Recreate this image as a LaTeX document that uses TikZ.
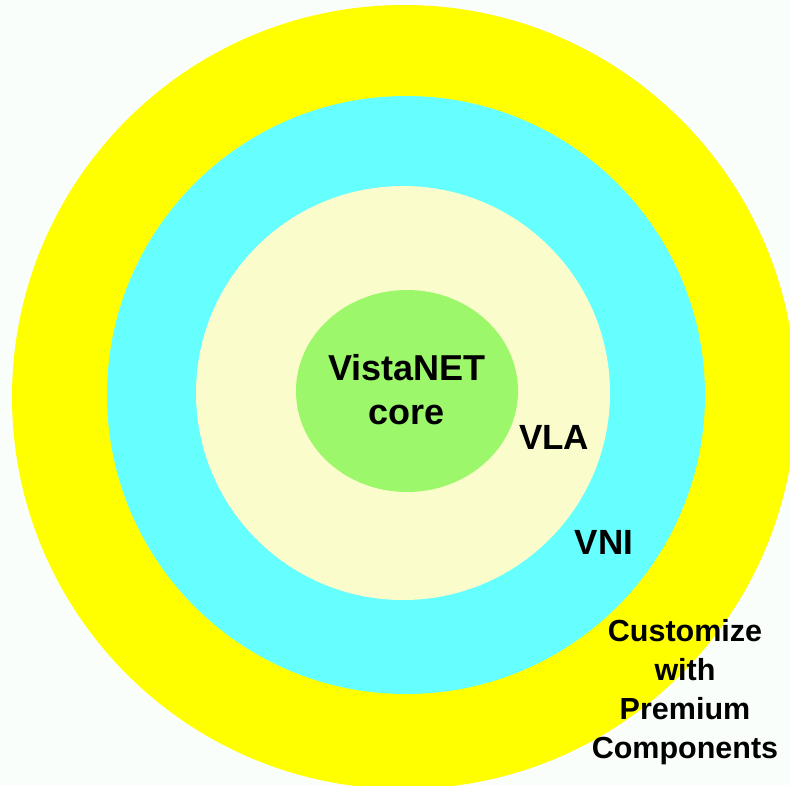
\documentclass[tikz,border=0pt]{standalone}
\usepackage{fontspec}
\setmainfont{Liberation Sans}
\definecolor{bgc}{HTML}{FAFEFA}
\definecolor{ringyellow}{HTML}{FFFF00}
\definecolor{ringcyan}{HTML}{66FFFF}
\definecolor{ringcream}{HTML}{FAFCCC}
\definecolor{coregreen}{HTML}{9CF76A}
\tikzset{
  lbl/.style={font=\bfseries\fontsize{35}{42}\selectfont, text=black, inner sep=0pt, align=center},
  corelbl/.style={font=\bfseries\fontsize{36}{44}\selectfont, text=black, inner sep=0pt, align=center},
  smalllbl/.style={font=\bfseries\fontsize{30.5}{39}\selectfont, text=black, inner sep=0pt, align=center},
}
\begin{document}
\begin{tikzpicture}[x=1pt,y=-1pt]
\fill[bgc] (0,0) rectangle (790,785);
\useasboundingbox (0,0) rectangle (790,785);
\begin{scope}
\clip (0,0) rectangle (790,785);
\fill[ringyellow] (404,397) circle [radius=392pt];
\fill[ringcyan] (406,395) circle [radius=299pt];
\fill[ringcream] (403,393) circle [radius=207pt];
\fill[coregreen] (407,391) ellipse [x radius=111pt, y radius=101pt];
\end{scope}
\node[corelbl] (core) at (407,390) {VistaNET\\core};
\node[lbl] (vla) at (554,437) {VLA};
\node[lbl] (vni) at (604,542) {VNI};
\node[smalllbl] (prem) at (685,692) {Customize\\with\\Premium\\Components};
\end{tikzpicture}
\end{document}
